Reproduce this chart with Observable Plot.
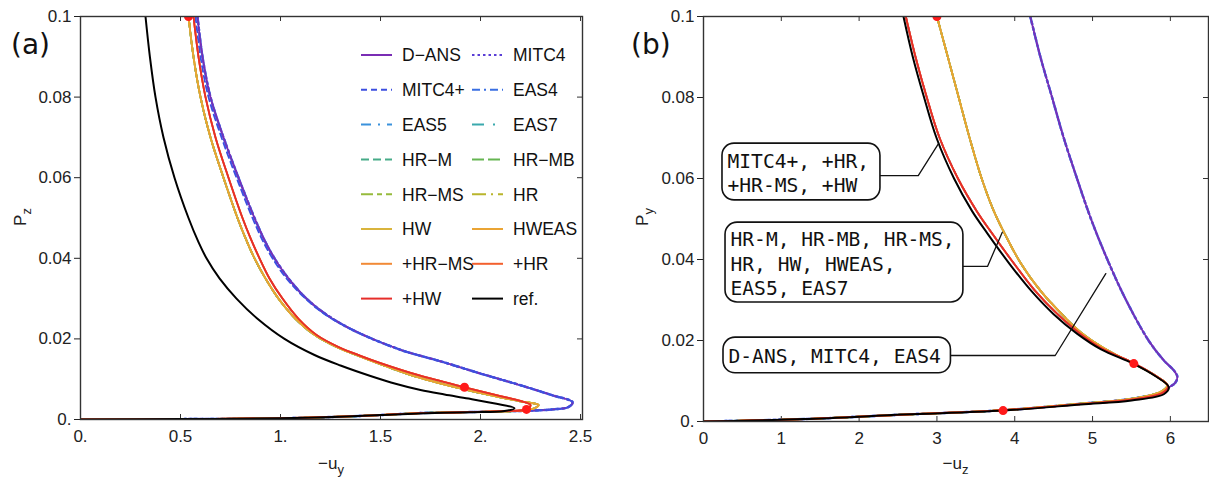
<!DOCTYPE html>
<html><head><meta charset="utf-8">
<script src="https://cdn.jsdelivr.net/npm/d3@7"></script>
<script src="https://cdn.jsdelivr.net/npm/@observablehq/plot@0.6"></script>
<style>
body{margin:0;background:#fff;}
#wrap{display:flex;width:1209px;height:478px;}
#wrap svg{display:block;overflow:visible;}
</style></head><body><div id="wrap"></div>
<script>
// ---- series (legend order) ----
const seriesNames = ["D-ANS","MITC4","MITC4+","EAS4","EAS5","EAS7","HR-M","HR-MB","HR-MS","HR","HW","HWEAS","+HR-MS","+HR","+HW","ref."];
const seriesColors = ["#7a2db4","#5a3ed6","#3d4fe0","#3a6fe2","#3b92dc","#3aa9ad","#47ab88","#66b552","#96bb3c","#b9b52c","#d9b43c","#eaa434","#f18a36","#f3602e","#e62e2a","#000000"];
const seriesDash = [null,"2.5,3","6,4","8,4,2,4","10,7,2,7","12,9,2,9","8,4","12,4","12,4,5,4","14,5,2,5",null,null,null,null,null,null];
const drawOrder = ["MITC4","EAS4","D-ANS","MITC4+","EAS5","EAS7","HR-M","HR-MB","HR-MS","HR","HW","HWEAS","+HR-MS","+HR","+HW","ref."];

// ---- panel (a): -u_y vs P_z ----
const leftRef = [[0.325,0.1],[0.347,0.09],[0.375,0.08],[0.415,0.07],[0.47,0.06],[0.54,0.05],[0.59,0.044],[0.63,0.04],[0.695,0.035],[0.78,0.03],[0.885,0.025],[1.02,0.02],[1.17,0.016],[1.30,0.0134],[1.45,0.0108],[1.58,0.0088],[1.70,0.0073],[1.82,0.0062],[1.94,0.0052],[2.08,0.0039],[2.17,0.0028],[2.12,0.0021],[1.95,0.0018],[1.69,0.0015],[1.5,0.0011],[1.3,0.0007],[1.0,0.0003],[0.5,0.0001],[0,0]];
const leftOuter = [[0.585,0.1],[0.61,0.09],[0.65,0.08],[0.715,0.07],[0.79,0.06],[0.87,0.05],[0.925,0.044],[0.97,0.04],[1.04,0.035],[1.13,0.03],[1.23,0.026],[1.37,0.022],[1.60,0.0173],[1.81,0.0143],[2.0,0.0114],[2.2,0.0085],[2.36,0.006],[2.46,0.0043],[2.44,0.0031],[2.36,0.0025],[2.25,0.0022],[2.0,0.0019],[1.7,0.0016],[1.5,0.0011],[1.3,0.0007],[1.0,0.0003],[0.5,0.0001],[0,0]];
const leftMitc4p = [[0.575,0.1],[0.60,0.09],[0.64,0.08],[0.705,0.07],[0.78,0.06],[0.86,0.05],[0.915,0.044],[0.96,0.04],[1.03,0.035],[1.125,0.03],[1.225,0.026],[1.37,0.022],[1.60,0.0173],[1.81,0.0143],[2.0,0.0114],[2.2,0.0085],[2.36,0.006],[2.46,0.0043],[2.44,0.0031],[2.36,0.0025],[2.25,0.0022],[2.0,0.0019],[1.7,0.0016],[1.5,0.0011],[1.3,0.0007],[1.0,0.0003],[0.5,0.0001],[0,0]];
const leftInner = [[0.54,0.1],[0.565,0.09],[0.60,0.08],[0.65,0.07],[0.715,0.06],[0.785,0.05],[0.825,0.045],[0.87,0.04],[0.925,0.035],[0.99,0.03],[1.075,0.025],[1.17,0.021],[1.28,0.018],[1.39,0.0158],[1.49,0.0139],[1.66,0.0109],[1.90,0.0077],[2.08,0.0057],[2.2,0.0045],[2.29,0.0036],[2.27,0.0028],[2.2,0.0022],[2.0,0.0019],[1.7,0.0016],[1.5,0.0011],[1.3,0.0007],[1.0,0.0003],[0.5,0.0001],[0,0]];
const leftPlus = [[0.565,0.1],[0.59,0.09],[0.625,0.08],[0.675,0.07],[0.74,0.06],[0.81,0.05],[0.85,0.045],[0.895,0.04],[0.945,0.035],[1.01,0.03],[1.09,0.025],[1.18,0.021],[1.29,0.018],[1.40,0.0158],[1.50,0.014],[1.69,0.011],[1.92,0.008],[2.1,0.0058],[2.2,0.0046],[2.25,0.0036],[2.23,0.0025],[2.1,0.0021],[1.9,0.0018],[1.7,0.0016],[1.5,0.0011],[1.3,0.0007],[1.0,0.0003],[0.5,0.0001],[0,0]];
const leftDots = [[0.54,0.1],[1.92,0.008],[2.23,0.0025]];
const leftGroupOf = {"D-ANS":leftOuter,"MITC4":leftOuter,"MITC4+":leftMitc4p,"EAS4":leftOuter,"EAS5":leftInner,"EAS7":leftInner,"HR-M":leftInner,"HR-MB":leftInner,"HR-MS":leftInner,"HR":leftInner,"HW":leftInner,"HWEAS":leftInner,"+HR-MS":leftPlus,"+HR":leftPlus,"+HW":leftPlus,"ref.":leftRef};

// ---- panel (b): -u_z vs P_y ----
const rightRef = [[2.57,0.1],[2.69,0.09],[2.835,0.08],[2.995,0.07],[3.22,0.06],[3.45,0.052],[3.65,0.0464],[3.93,0.039],[4.21,0.0323],[4.50,0.0265],[4.80,0.0217],[5.11,0.0178],[5.52,0.0143],[5.8,0.0113],[5.98,0.0085],[5.92,0.0068],[5.5,0.0052],[4.85,0.0042],[3.86,0.0027],[2.57,0.0017],[1.29,0.0006],[0,0]];
const rightNear = [[2.60,0.1],[2.725,0.09],[2.87,0.08],[3.035,0.07],[3.27,0.06],[3.51,0.052],[3.71,0.0464],[3.99,0.039],[4.26,0.0323],[4.55,0.0265],[4.84,0.0217],[5.14,0.0178],[5.53,0.0144],[5.8,0.0114],[5.97,0.0087],[5.9,0.0071],[5.5,0.0054],[4.85,0.0043],[3.86,0.0028],[2.57,0.0017],[1.29,0.0006],[0,0]];
const rightMid = [[3.0,0.1],[3.14,0.09],[3.28,0.08],[3.42,0.07],[3.575,0.06],[3.73,0.052],[3.87,0.0464],[4.08,0.039],[4.33,0.0323],[4.58,0.027],[4.85,0.022],[5.2,0.0175],[5.53,0.0143],[5.8,0.0114],[5.96,0.0089],[5.87,0.0073],[5.47,0.0055],[4.85,0.0044],[3.86,0.0028],[2.57,0.0017],[1.29,0.0006],[0,0]];
const rightOuter = [[4.2,0.1],[4.33,0.09],[4.48,0.08],[4.63,0.07],[4.80,0.06],[4.98,0.05],[5.19,0.04],[5.43,0.03],[5.72,0.02],[5.92,0.015],[6.05,0.0125],[6.09,0.011],[6.06,0.0095],[5.98,0.0084],[5.9,0.0073],[5.5,0.0056],[4.85,0.0044],[3.86,0.0028],[2.57,0.0017],[1.29,0.0006],[0,0]];
const rightDots = [[3.0,0.1],[5.53,0.0143],[3.85,0.0027]];
const rightGroupOf = {"D-ANS":rightOuter,"MITC4":rightOuter,"MITC4+":rightNear,"EAS4":rightOuter,"EAS5":rightMid,"EAS7":rightMid,"HR-M":rightMid,"HR-MB":rightMid,"HR-MS":rightMid,"HR":rightMid,"HW":rightMid,"HWEAS":rightMid,"+HR-MS":rightNear,"+HR":rightNear,"+HW":rightNear,"ref.":rightRef};

// annotation boxes in panel (b)
const annTexts = ["MITC4+, +HR,\n+HR-MS, +HW","HR-M, HR-MB, HR-MS,\nHR, HW, HWEAS,\nEAS5, EAS7","D-ANS, MITC4, EAS4"];
const annBoxX = [[0.244,2.274],[0.283,3.34],[0.257,3.18]];
const annBoxY = [[0.0546,0.0686],[0.0294,0.0491],[0.0119,0.0207]];
const annLeaders = [
  [[2.274,0.0607],[2.76,0.0607],[3.02,0.0686]],
  [[3.34,0.0383],[3.65,0.0383],[3.84,0.0467]],
  [[3.18,0.0163],[4.52,0.0163],[5.17,0.0365]]
];

const yTicks = [0,0.02,0.04,0.06,0.08,0.1];
const leftXTicks = [0,0.5,1,1.5,2,2.5];
const rightXTicks = [0,1,2,3,4,5,6];
const fmtY = d => d === 0 ? "0." : String(d);
const fmtLeftX = d => Number.isInteger(d) ? d + "." : String(d);

const FONT = "Liberation Sans, Arial, sans-serif";

function seriesMarks(groupOf) {
  return drawOrder.map(name => {
    const i = seriesNames.indexOf(name);
    const w = name === "ref." ? 2 : name === "D-ANS" ? 1.6 : (name === "MITC4" || name === "EAS4") ? 2.4 : 1.8;
    return Plot.line(groupOf[name], {
      x: d => d[0], y: d => d[1], stroke: seriesColors[i], strokeWidth: w,
      strokeDasharray: seriesDash[i] || undefined, curve: "catmull-rom", clip: true
    });
  });
}

function frameTicks(xt, innerH, innerW) {
  return [
    Plot.tickX(xt, {x: d => d, insetTop: innerH - 5, stroke: "#333", strokeWidth: 1}),
    Plot.tickX(xt, {x: d => d, insetBottom: innerH - 5, stroke: "#333", strokeWidth: 1}),
    Plot.tickY(yTicks, {y: d => d, insetLeft: innerW - 5, stroke: "#333", strokeWidth: 1})
  ];
}

// ---- left plot ----
const LW = 620, LH = 478, LML = 80, LMR = 38, LMT = 16, LMB = 59;
const left = Plot.plot({
  width: LW, height: LH, marginLeft: LML, marginRight: LMR, marginTop: LMT, marginBottom: LMB,
  style: {fontFamily: FONT, fontSize: "17px", color: "#222", background: "white"},
  x: {domain: [0, 2.51]}, y: {domain: [0, 0.1]},
  marks: [
    ...frameTicks(leftXTicks, LH - LMT - LMB, LW - LML - LMR),
    Plot.axisX({ticks: leftXTicks, tickFormat: fmtLeftX, tickSize: 0, tickPadding: 10, label: null}),
    Plot.axisY({ticks: yTicks, tickFormat: fmtY, tickSize: 6, tickPadding: 3, label: null}),
    ...seriesMarks(leftGroupOf),
    Plot.dot(leftDots, {x: d => d[0], y: d => d[1], r: 4.5, fill: "#ff1a1a", clip: true}),
    Plot.frame({stroke: "#333", strokeWidth: 1.4})
  ]
});

// ---- right plot ----
const RW = 589, RH = 478, RML = 83, RMR = 1, RMT = 16, RMB = 57;
const annRows = annTexts.map((t, i) => ({t, x1: annBoxX[i][0], x2: annBoxX[i][1], y1: annBoxY[i][0], y2: annBoxY[i][1]}));
const right = Plot.plot({
  width: RW, height: RH, marginLeft: RML, marginRight: RMR, marginTop: RMT, marginBottom: RMB,
  style: {fontFamily: FONT, fontSize: "17px", color: "#222", background: "white"},
  x: {domain: [0, 6.49]}, y: {domain: [0, 0.1]},
  marks: [
    ...frameTicks(rightXTicks, RH - RMT - RMB, RW - RML - RMR),
    Plot.axisX({ticks: rightXTicks, tickFormat: d => String(d), tickSize: 0, tickPadding: 10, label: null}),
    Plot.axisY({ticks: yTicks, tickFormat: fmtY, tickSize: 6, tickPadding: 3, label: null}),
    ...seriesMarks(rightGroupOf),
    Plot.dot(rightDots, {x: d => d[0], y: d => d[1], r: 4.5, fill: "#ff1a1a", clip: true}),
    ...annLeaders.map(L => Plot.line(L, {x: d => d[0], y: d => d[1], stroke: "#111", strokeWidth: 1.3})),
    Plot.rect(annRows, {x1: "x1", x2: "x2", y1: "y1", y2: "y2", rx: 12, fill: "white", stroke: "#111", strokeWidth: 1.6}),
    Plot.text(annRows, {x: "x1", y: d => (d.y1 + d.y2) / 2, text: "t", dx: 5, textAnchor: "start", lineAnchor: "middle", lineHeight: 1.27, fontFamily: "DejaVu Sans Mono, monospace", fontSize: 19.6, fill: "#111"}),
    Plot.frame({stroke: "#333", strokeWidth: 1.4})
  ]
});

// ---- legend, axis titles, panel labels ----
function addTitles(svg, xSub, ySub, xCenter, yLabelX, panel) {
  const s = d3.select(svg);
  const xl = s.append("text").attr("x", xCenter).attr("y", 469).attr("text-anchor", "middle")
    .attr("font-family", FONT).attr("font-size", 17).attr("fill", "#222");
  xl.append("tspan").text("−u");
  xl.append("tspan").attr("font-size", 13).attr("dy", 5).text(xSub);
  const yl = s.append("text").attr("transform", `translate(${yLabelX},217) rotate(-90)`).attr("text-anchor", "middle")
    .attr("font-family", FONT).attr("font-size", 17).attr("fill", "#222");
  yl.append("tspan").text("P");
  yl.append("tspan").attr("font-size", 13).attr("dy", 5).text(ySub);
  s.append("text").attr("x", 11).attr("y", 54).attr("text-anchor", "start").attr("font-family", "DejaVu Sans, sans-serif")
    .attr("font-size", 28).attr("fill", "#111").text(panel);
}
addTitles(left, "y", "z", (LML + LW - LMR) / 2, 26, "(a)");
addTitles(right, "z", "y", (RML + RW - RMR) / 2, 28, "(b)");

const leg = d3.select(left).append("g").attr("font-family", FONT).attr("font-size", 17.5).attr("fill", "#111").attr("text-anchor", "start");
seriesNames.forEach((name, i) => {
  const row = Math.floor(i / 2), col = i % 2;
  const y = 55 + row * 34.8;
  const x0 = col === 0 ? 361 : 472;
  const ln = leg.append("line").attr("x1", x0).attr("x2", x0 + 31).attr("y1", y).attr("y2", y)
    .attr("stroke", seriesColors[i]).attr("stroke-width", 2);
  if (seriesDash[i]) ln.attr("stroke-dasharray", seriesDash[i]);
  leg.append("text").attr("x", x0 + 41).attr("y", y).attr("dy", "0.36em").attr("text-anchor", "start").text(name.replace(/-/g, "−"));
});

document.getElementById("wrap").append(left, right);
</script></body></html>
